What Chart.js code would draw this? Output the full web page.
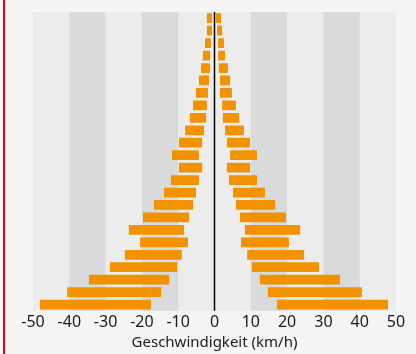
<!DOCTYPE html>
<html>
<head>
<meta charset="utf-8">
<script src="https://cdn.jsdelivr.net/npm/chart.js@4"></script>
<style>
  html, body { margin: 0; padding: 0; background: #f5f5f5; }
  #wrap { position: relative; width: 416px; height: 354px; overflow: hidden; }
  #rot { position: absolute; left: 3px; top: 0; width: 2px; height: 354px; background: #e2001a; }
  #streifen { position: absolute; left: 9px; top: 0; width: 6px; height: 354px; background: #f6f5ee; }
  canvas { position: absolute; left: 0; top: 0; }
</style>
</head>
<body>
<div id="wrap">
  <div id="rot"></div>
  <div id="streifen"></div>
  <canvas id="chartTempo" width="416" height="354"></canvas>
</div>
<script>
// Zeilen von oben nach unten
const zeilen = ["1","2","3","4","5","6","7","8","9","10","11","12","13","14","15","16","17","18","19","20","21","22","23","24"];

// linke Balken (negativ): von / bis
const linksVon = [-2.1, -2.1, -2.6, -3.2, -3.7, -4.3, -5.1, -5.9, -6.8, -8.1, -9.8, -11.7, -9.8, -12.0, -13.9, -16.7, -19.7, -23.6, -20.5, -24.7, -28.8, -34.6, -40.6, -48.1];
const linksBis = [-0.7, -0.7, -1.0, -1.2, -1.2, -1.5, -1.8, -2.1, -2.3, -2.9, -3.4, -4.3, -3.4, -4.3, -5.1, -5.9, -7.0, -8.4, -7.3, -9.0, -10.3, -12.5, -14.7, -17.5];

// rechte Balken (positiv): von / bis
const rechtsVon = [0.4, 0.7, 1.0, 1.0, 1.2, 1.5, 1.5, 2.1, 2.3, 2.9, 3.4, 4.3, 3.4, 4.0, 5.1, 5.9, 7.0, 8.4, 7.3, 9.0, 10.3, 12.5, 14.7, 17.2];
const rechtsBis = [1.8, 2.1, 2.6, 2.9, 3.7, 4.3, 4.8, 5.9, 6.8, 8.1, 9.8, 11.7, 9.8, 11.7, 13.9, 16.7, 19.7, 23.6, 20.5, 24.7, 28.8, 34.6, 40.6, 47.8];

// dunkle Streifen im Hintergrund
const dunkleBereiche = [[-40, -30], [-20, -10], [10, 20], [30, 40]];

const hintergrund = {
  id: 'hintergrund',
  beforeDatasetsDraw(chart) {
    const { ctx, chartArea, scales } = chart;
    ctx.save();
    ctx.fillStyle = '#ebeceb';
    ctx.fillRect(chartArea.left, chartArea.top, chartArea.right - chartArea.left, chartArea.bottom - chartArea.top);
    ctx.fillStyle = '#d9dadb';
    dunkleBereiche.forEach(b => {
      const x1 = scales.x.getPixelForValue(b[0]);
      const x2 = scales.x.getPixelForValue(b[1]);
      ctx.fillRect(x1, chartArea.top, x2 - x1, chartArea.bottom - chartArea.top);
    });
    ctx.restore();
  },
  afterDatasetsDraw(chart) {
    const { ctx, chartArea, scales } = chart;
    const x0 = scales.x.getPixelForValue(0);
    ctx.save();
    ctx.strokeStyle = '#000';
    ctx.lineWidth = 1.5;
    ctx.beginPath();
    ctx.moveTo(x0, chartArea.top);
    ctx.lineTo(x0, chartArea.bottom);
    ctx.stroke();
    ctx.restore();
  }
};

let ctx = document.getElementById("chartTempo").getContext("2d");
let grafik = new Chart(ctx, {
  type: 'bar',
  data: {
    labels: zeilen,
    datasets: [
      {
        label: 'links',
        data: linksVon.map((v, i) => [v, linksBis[i]]),
        backgroundColor: '#f39200'
      },
      {
        label: 'rechts',
        data: rechtsVon.map((v, i) => [v, rechtsBis[i]]),
        backgroundColor: '#f39200'
      }
    ]
  },
  options: {
    indexAxis: 'y',
    responsive: false,
    animation: false,
    grouped: false,
    barPercentage: 0.78,
    categoryPercentage: 1,
    layout: { padding: { left: 33, right: 20, top: 12, bottom: 0 } },
    plugins: {
      legend: { display: false },
      tooltip: { enabled: false }
    },
    scales: {
      x: {
        min: -50,
        max: 50,
        ticks: {
          stepSize: 10,
          color: '#1a1a1a',
          font: { family: 'Noto Sans', size: 16 },
          padding: 2
        },
        grid: { display: false, drawTicks: false },
        border: { display: false },
        title: {
          display: true,
          text: 'Geschwindigkeit (km/h)',
          color: '#1a1a1a',
          font: { family: 'Noto Sans', size: 15 },
          padding: { top: 0, bottom: 2 }
        }
      },
      y: {
        display: false
      }
    }
  },
  plugins: [hintergrund]
});
</script>
</body>
</html>
